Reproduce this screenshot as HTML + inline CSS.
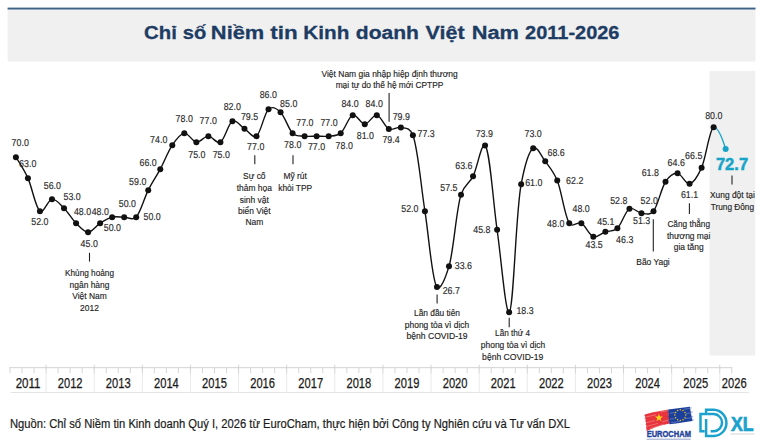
<!DOCTYPE html>
<html lang="vi"><head><meta charset="utf-8"><title>Chỉ số Niềm tin Kinh doanh Việt Nam 2011-2026</title>
<style>
html,body{margin:0;padding:0;background:#fff;}
body{width:762px;height:447px;overflow:hidden;font-family:"Liberation Sans",sans-serif;}
svg{display:block;}
</style></head><body>
<svg width="762" height="447" viewBox="0 0 762 447">
<rect width="762" height="447" fill="#fff"/>
<rect x="7.6" y="8" width="747.9" height="53.6" fill="#f0f0f0"/>
<rect x="7.6" y="7.6" width="747.9" height="1.9" fill="#3b6186"/>
<g font-family="Liberation Sans, sans-serif" font-weight="700" font-size="19.2" fill="#1d3c63" stroke="#1d3c63" stroke-width="0.3">
<text x="144.08" y="38.50" textLength="32.79" lengthAdjust="spacingAndGlyphs">Chỉ</text>
<text x="182.84" y="38.50" textLength="23.49" lengthAdjust="spacingAndGlyphs">số</text>
<text x="210.88" y="38.50" textLength="53.39" lengthAdjust="spacingAndGlyphs">Niềm</text>
<text x="270.29" y="38.50" textLength="27.41" lengthAdjust="spacingAndGlyphs">tin</text>
<text x="303.34" y="38.50" textLength="46.03" lengthAdjust="spacingAndGlyphs">Kinh</text>
<text x="355.79" y="38.50" textLength="63.17" lengthAdjust="spacingAndGlyphs">doanh</text>
<text x="425.61" y="38.50" textLength="38.99" lengthAdjust="spacingAndGlyphs">Việt</text>
<text x="471.72" y="38.50" textLength="47.23" lengthAdjust="spacingAndGlyphs">Nam</text>
<text x="525.08" y="38.50" textLength="94.39" lengthAdjust="spacingAndGlyphs">2011-2026</text>
</g>
<rect x="709.6" y="70.9" width="45.6" height="284.7" fill="#f0f0f0"/>
<g stroke-width="1" fill="none">
<line x1="10.50" y1="392.5" x2="749.00" y2="392.5" stroke="#e4e4e4"/>
<line x1="46.09" y1="373" x2="46.09" y2="392.5" stroke="#e9e9e9"/>
<line x1="94.21" y1="373" x2="94.21" y2="392.5" stroke="#e9e9e9"/>
<line x1="142.33" y1="373" x2="142.33" y2="392.5" stroke="#e9e9e9"/>
<line x1="190.45" y1="373" x2="190.45" y2="392.5" stroke="#e9e9e9"/>
<line x1="238.57" y1="373" x2="238.57" y2="392.5" stroke="#e9e9e9"/>
<line x1="286.69" y1="373" x2="286.69" y2="392.5" stroke="#e9e9e9"/>
<line x1="334.81" y1="373" x2="334.81" y2="392.5" stroke="#e9e9e9"/>
<line x1="382.93" y1="373" x2="382.93" y2="392.5" stroke="#e9e9e9"/>
<line x1="431.05" y1="373" x2="431.05" y2="392.5" stroke="#e9e9e9"/>
<line x1="479.17" y1="373" x2="479.17" y2="392.5" stroke="#e9e9e9"/>
<line x1="527.29" y1="373" x2="527.29" y2="392.5" stroke="#e9e9e9"/>
<line x1="575.41" y1="373" x2="575.41" y2="392.5" stroke="#e9e9e9"/>
<line x1="623.53" y1="373" x2="623.53" y2="392.5" stroke="#e9e9e9"/>
<line x1="671.65" y1="373" x2="671.65" y2="392.5" stroke="#e9e9e9"/>
<line x1="719.77" y1="373" x2="719.77" y2="392.5" stroke="#e9e9e9"/>
<line x1="10.00" y1="367.5" x2="10.00" y2="373.2" stroke="#d6d6d6"/>
<line x1="22.03" y1="367.5" x2="22.03" y2="373.2" stroke="#d6d6d6"/>
<line x1="34.06" y1="367.5" x2="34.06" y2="373.2" stroke="#d6d6d6"/>
<line x1="46.09" y1="364.8" x2="46.09" y2="373.2" stroke="#d2d2d2"/>
<line x1="58.12" y1="367.5" x2="58.12" y2="373.2" stroke="#d6d6d6"/>
<line x1="70.15" y1="367.5" x2="70.15" y2="373.2" stroke="#d6d6d6"/>
<line x1="82.18" y1="367.5" x2="82.18" y2="373.2" stroke="#d6d6d6"/>
<line x1="94.21" y1="364.8" x2="94.21" y2="373.2" stroke="#d2d2d2"/>
<line x1="106.24" y1="367.5" x2="106.24" y2="373.2" stroke="#d6d6d6"/>
<line x1="118.27" y1="367.5" x2="118.27" y2="373.2" stroke="#d6d6d6"/>
<line x1="130.30" y1="367.5" x2="130.30" y2="373.2" stroke="#d6d6d6"/>
<line x1="142.33" y1="364.8" x2="142.33" y2="373.2" stroke="#d2d2d2"/>
<line x1="154.36" y1="367.5" x2="154.36" y2="373.2" stroke="#d6d6d6"/>
<line x1="166.39" y1="367.5" x2="166.39" y2="373.2" stroke="#d6d6d6"/>
<line x1="178.42" y1="367.5" x2="178.42" y2="373.2" stroke="#d6d6d6"/>
<line x1="190.45" y1="364.8" x2="190.45" y2="373.2" stroke="#d2d2d2"/>
<line x1="202.48" y1="367.5" x2="202.48" y2="373.2" stroke="#d6d6d6"/>
<line x1="214.51" y1="367.5" x2="214.51" y2="373.2" stroke="#d6d6d6"/>
<line x1="226.54" y1="367.5" x2="226.54" y2="373.2" stroke="#d6d6d6"/>
<line x1="238.57" y1="364.8" x2="238.57" y2="373.2" stroke="#d2d2d2"/>
<line x1="250.60" y1="367.5" x2="250.60" y2="373.2" stroke="#d6d6d6"/>
<line x1="262.63" y1="367.5" x2="262.63" y2="373.2" stroke="#d6d6d6"/>
<line x1="274.66" y1="367.5" x2="274.66" y2="373.2" stroke="#d6d6d6"/>
<line x1="286.69" y1="364.8" x2="286.69" y2="373.2" stroke="#d2d2d2"/>
<line x1="298.72" y1="367.5" x2="298.72" y2="373.2" stroke="#d6d6d6"/>
<line x1="310.75" y1="367.5" x2="310.75" y2="373.2" stroke="#d6d6d6"/>
<line x1="322.78" y1="367.5" x2="322.78" y2="373.2" stroke="#d6d6d6"/>
<line x1="334.81" y1="364.8" x2="334.81" y2="373.2" stroke="#d2d2d2"/>
<line x1="346.84" y1="367.5" x2="346.84" y2="373.2" stroke="#d6d6d6"/>
<line x1="358.87" y1="367.5" x2="358.87" y2="373.2" stroke="#d6d6d6"/>
<line x1="370.90" y1="367.5" x2="370.90" y2="373.2" stroke="#d6d6d6"/>
<line x1="382.93" y1="364.8" x2="382.93" y2="373.2" stroke="#d2d2d2"/>
<line x1="394.96" y1="367.5" x2="394.96" y2="373.2" stroke="#d6d6d6"/>
<line x1="406.99" y1="367.5" x2="406.99" y2="373.2" stroke="#d6d6d6"/>
<line x1="419.02" y1="367.5" x2="419.02" y2="373.2" stroke="#d6d6d6"/>
<line x1="431.05" y1="364.8" x2="431.05" y2="373.2" stroke="#d2d2d2"/>
<line x1="443.08" y1="367.5" x2="443.08" y2="373.2" stroke="#d6d6d6"/>
<line x1="455.11" y1="367.5" x2="455.11" y2="373.2" stroke="#d6d6d6"/>
<line x1="467.14" y1="367.5" x2="467.14" y2="373.2" stroke="#d6d6d6"/>
<line x1="479.17" y1="364.8" x2="479.17" y2="373.2" stroke="#d2d2d2"/>
<line x1="491.20" y1="367.5" x2="491.20" y2="373.2" stroke="#d6d6d6"/>
<line x1="503.23" y1="367.5" x2="503.23" y2="373.2" stroke="#d6d6d6"/>
<line x1="515.26" y1="367.5" x2="515.26" y2="373.2" stroke="#d6d6d6"/>
<line x1="527.29" y1="364.8" x2="527.29" y2="373.2" stroke="#d2d2d2"/>
<line x1="539.32" y1="367.5" x2="539.32" y2="373.2" stroke="#d6d6d6"/>
<line x1="551.35" y1="367.5" x2="551.35" y2="373.2" stroke="#d6d6d6"/>
<line x1="563.38" y1="367.5" x2="563.38" y2="373.2" stroke="#d6d6d6"/>
<line x1="575.41" y1="364.8" x2="575.41" y2="373.2" stroke="#d2d2d2"/>
<line x1="587.44" y1="367.5" x2="587.44" y2="373.2" stroke="#d6d6d6"/>
<line x1="599.47" y1="367.5" x2="599.47" y2="373.2" stroke="#d6d6d6"/>
<line x1="611.50" y1="367.5" x2="611.50" y2="373.2" stroke="#d6d6d6"/>
<line x1="623.53" y1="364.8" x2="623.53" y2="373.2" stroke="#d2d2d2"/>
<line x1="635.56" y1="367.5" x2="635.56" y2="373.2" stroke="#d6d6d6"/>
<line x1="647.59" y1="367.5" x2="647.59" y2="373.2" stroke="#d6d6d6"/>
<line x1="659.62" y1="367.5" x2="659.62" y2="373.2" stroke="#d6d6d6"/>
<line x1="671.65" y1="364.8" x2="671.65" y2="373.2" stroke="#d2d2d2"/>
<line x1="683.68" y1="367.5" x2="683.68" y2="373.2" stroke="#d6d6d6"/>
<line x1="695.71" y1="367.5" x2="695.71" y2="373.2" stroke="#d6d6d6"/>
<line x1="707.74" y1="367.5" x2="707.74" y2="373.2" stroke="#d6d6d6"/>
<line x1="719.77" y1="364.8" x2="719.77" y2="373.2" stroke="#d2d2d2"/>
<line x1="731.80" y1="367.5" x2="731.80" y2="373.2" stroke="#d6d6d6"/>
<line x1="9.40" y1="367.7" x2="732.30" y2="367.7" stroke="#d2d2d2"/>
</g>
<g font-family="Liberation Sans, sans-serif" font-size="14" fill="#1a1a1a" stroke="#1a1a1a" stroke-width="0.25" text-anchor="middle">
<text x="28.04" y="388.3" textLength="24.8" lengthAdjust="spacingAndGlyphs">2011</text>
<text x="70.15" y="388.3" textLength="24.8" lengthAdjust="spacingAndGlyphs">2012</text>
<text x="118.27" y="388.3" textLength="24.8" lengthAdjust="spacingAndGlyphs">2013</text>
<text x="166.39" y="388.3" textLength="24.8" lengthAdjust="spacingAndGlyphs">2014</text>
<text x="214.51" y="388.3" textLength="24.8" lengthAdjust="spacingAndGlyphs">2015</text>
<text x="262.63" y="388.3" textLength="24.8" lengthAdjust="spacingAndGlyphs">2016</text>
<text x="310.75" y="388.3" textLength="24.8" lengthAdjust="spacingAndGlyphs">2017</text>
<text x="358.87" y="388.3" textLength="24.8" lengthAdjust="spacingAndGlyphs">2018</text>
<text x="406.99" y="388.3" textLength="24.8" lengthAdjust="spacingAndGlyphs">2019</text>
<text x="455.11" y="388.3" textLength="24.8" lengthAdjust="spacingAndGlyphs">2020</text>
<text x="503.23" y="388.3" textLength="24.8" lengthAdjust="spacingAndGlyphs">2021</text>
<text x="551.35" y="388.3" textLength="24.8" lengthAdjust="spacingAndGlyphs">2022</text>
<text x="599.47" y="388.3" textLength="24.8" lengthAdjust="spacingAndGlyphs">2023</text>
<text x="647.59" y="388.3" textLength="24.8" lengthAdjust="spacingAndGlyphs">2024</text>
<text x="695.71" y="388.3" textLength="24.8" lengthAdjust="spacingAndGlyphs">2025</text>
<text x="734.27" y="388.3" textLength="24.8" lengthAdjust="spacingAndGlyphs">2026</text>
</g>
<path d="M15.90,157.15C15.90,157.15 24.04,169.55 27.93,178.15C32.08,187.33 35.73,208.25 39.96,211.15C43.79,213.78 47.96,199.62 51.99,199.15C55.98,198.68 60.05,204.21 64.02,208.15C68.07,212.17 72.00,219.13 76.05,223.15C80.02,227.09 84.07,232.15 88.08,232.15C92.09,232.15 96.09,225.65 100.11,223.15C104.11,220.66 108.12,218.15 112.14,217.15C116.14,216.16 120.16,217.15 124.17,217.15C128.18,217.15 132.35,221.10 136.20,217.15C140.40,212.84 144.16,198.25 148.23,190.15C152.18,182.30 156.28,176.59 160.26,169.15C164.30,161.60 168.17,151.21 172.29,145.15C176.20,139.39 180.29,133.62 184.32,133.15C188.31,132.68 192.33,141.66 196.35,142.15C200.35,142.63 204.37,136.15 208.38,136.15C212.39,136.15 216.50,144.37 220.41,142.15C224.53,139.82 228.33,123.22 232.44,121.15C236.36,119.17 240.46,126.15 244.47,128.65C248.48,131.15 252.64,138.85 256.50,136.15C260.68,133.23 264.33,112.89 268.53,109.15C272.38,105.71 276.65,108.41 280.56,112.15C284.68,116.10 288.47,129.20 292.59,133.15C296.50,136.89 300.61,135.65 304.62,136.15C308.63,136.65 312.64,136.15 316.65,136.15C320.66,136.15 324.67,136.65 328.68,136.15C332.69,135.65 336.78,136.48 340.71,133.15C344.80,129.68 348.67,116.53 352.74,115.15C356.69,113.81 360.76,124.15 364.77,124.15C368.78,124.15 372.82,114.41 376.80,115.15C380.84,115.90 384.77,126.94 388.83,128.95C392.79,130.91 396.87,126.42 400.86,127.45C404.89,128.49 409.37,126.39 412.89,135.25C417.90,147.86 420.91,185.85 424.92,211.15C428.93,236.45 432.11,281.74 436.95,287.05C440.51,290.95 445.40,277.99 448.98,266.35C453.75,250.85 456.20,209.55 461.01,194.65C464.58,183.58 469.15,184.17 473.04,176.35C477.19,168.01 481.50,142.43 485.07,145.45C489.87,149.51 493.07,201.83 497.10,229.75C501.09,257.43 505.43,313.25 509.13,312.25C513.59,311.04 515.78,212.24 521.16,184.15C524.61,166.15 528.92,151.20 533.19,148.15C537.00,145.42 541.26,156.04 545.22,161.35C549.28,166.79 553.47,171.31 557.25,180.55C561.55,191.07 564.85,216.67 569.28,223.15C572.99,228.58 577.35,220.98 581.31,223.15C585.37,225.37 589.29,235.25 593.34,236.65C597.31,238.02 601.36,233.25 605.37,231.85C609.38,230.45 613.48,231.89 617.40,228.25C621.51,224.43 625.32,211.12 629.43,208.75C633.35,206.48 637.45,212.85 641.46,213.25C645.47,213.65 649.66,215.74 653.49,211.15C657.72,206.09 661.31,188.03 665.52,181.75C669.37,176.01 673.55,173.02 677.55,173.35C681.57,173.68 685.61,184.71 689.58,183.85C693.63,182.98 697.83,176.07 701.61,167.65C705.91,158.06 709.40,129.29 713.64,127.15" fill="none" stroke="#111" stroke-width="1.4" stroke-linejoin="round" stroke-linecap="round"/>
<path d="M713.64,127.15C718.64,126.95 723.37,141.55 725.67,149.05" fill="none" stroke="#15a4c8" stroke-width="1.4" stroke-linecap="round"/>
<g fill="#111">
<circle cx="15.90" cy="157.15" r="3"/>
<circle cx="27.93" cy="178.15" r="3"/>
<circle cx="39.96" cy="211.15" r="3"/>
<circle cx="51.99" cy="199.15" r="3"/>
<circle cx="64.02" cy="208.15" r="3"/>
<circle cx="76.05" cy="223.15" r="3"/>
<circle cx="88.08" cy="232.15" r="3"/>
<circle cx="100.11" cy="223.15" r="3"/>
<circle cx="112.14" cy="217.15" r="3"/>
<circle cx="124.17" cy="217.15" r="3"/>
<circle cx="136.20" cy="217.15" r="3"/>
<circle cx="148.23" cy="190.15" r="3"/>
<circle cx="160.26" cy="169.15" r="3"/>
<circle cx="172.29" cy="145.15" r="3"/>
<circle cx="184.32" cy="133.15" r="3"/>
<circle cx="196.35" cy="142.15" r="3"/>
<circle cx="208.38" cy="136.15" r="3"/>
<circle cx="220.41" cy="142.15" r="3"/>
<circle cx="232.44" cy="121.15" r="3"/>
<circle cx="244.47" cy="128.65" r="3"/>
<circle cx="256.50" cy="136.15" r="3"/>
<circle cx="268.53" cy="109.15" r="3"/>
<circle cx="280.56" cy="112.15" r="3"/>
<circle cx="292.59" cy="133.15" r="3"/>
<circle cx="304.62" cy="136.15" r="3"/>
<circle cx="316.65" cy="136.15" r="3"/>
<circle cx="328.68" cy="136.15" r="3"/>
<circle cx="340.71" cy="133.15" r="3"/>
<circle cx="352.74" cy="115.15" r="3"/>
<circle cx="364.77" cy="124.15" r="3"/>
<circle cx="376.80" cy="115.15" r="3"/>
<circle cx="388.83" cy="128.95" r="3"/>
<circle cx="400.86" cy="127.45" r="3"/>
<circle cx="412.89" cy="135.25" r="3"/>
<circle cx="424.92" cy="211.15" r="3"/>
<circle cx="436.95" cy="287.05" r="3"/>
<circle cx="448.98" cy="266.35" r="3"/>
<circle cx="461.01" cy="194.65" r="3"/>
<circle cx="473.04" cy="176.35" r="3"/>
<circle cx="485.07" cy="145.45" r="3"/>
<circle cx="497.10" cy="229.75" r="3"/>
<circle cx="509.13" cy="312.25" r="3"/>
<circle cx="521.16" cy="184.15" r="3"/>
<circle cx="533.19" cy="148.15" r="3"/>
<circle cx="545.22" cy="161.35" r="3"/>
<circle cx="557.25" cy="180.55" r="3"/>
<circle cx="569.28" cy="223.15" r="3"/>
<circle cx="581.31" cy="223.15" r="3"/>
<circle cx="593.34" cy="236.65" r="3"/>
<circle cx="605.37" cy="231.85" r="3"/>
<circle cx="617.40" cy="228.25" r="3"/>
<circle cx="629.43" cy="208.75" r="3"/>
<circle cx="641.46" cy="213.25" r="3"/>
<circle cx="653.49" cy="211.15" r="3"/>
<circle cx="665.52" cy="181.75" r="3"/>
<circle cx="677.55" cy="173.35" r="3"/>
<circle cx="689.58" cy="183.85" r="3"/>
<circle cx="701.61" cy="167.65" r="3"/>
<circle cx="713.64" cy="127.15" r="3"/>
</g>
<circle cx="725.67" cy="149.05" r="3" fill="#15a4c8"/>
<g font-family="Liberation Sans, sans-serif" font-size="10.0" fill="#2a2a2a" stroke="#2a2a2a" stroke-width="0.15" text-anchor="middle" text-rendering="geometricPrecision">
<text x="20.2" y="145.8" textLength="17.2" lengthAdjust="spacingAndGlyphs">70.0</text>
<text x="27.7" y="166.8" textLength="17.2" lengthAdjust="spacingAndGlyphs">63.0</text>
<text x="39.9" y="225.3" textLength="17.2" lengthAdjust="spacingAndGlyphs">52.0</text>
<text x="52.4" y="189.4" textLength="17.2" lengthAdjust="spacingAndGlyphs">56.0</text>
<text x="72.1" y="199.7" textLength="17.2" lengthAdjust="spacingAndGlyphs">53.0</text>
<text x="82.5" y="214.7" textLength="17.2" lengthAdjust="spacingAndGlyphs">48.0</text>
<text x="89.2" y="247.0" textLength="17.2" lengthAdjust="spacingAndGlyphs">45.0</text>
<text x="100.3" y="214.7" textLength="17.2" lengthAdjust="spacingAndGlyphs">48.0</text>
<text x="112.4" y="231.3" textLength="17.2" lengthAdjust="spacingAndGlyphs">50.0</text>
<text x="127.4" y="206.9" textLength="17.2" lengthAdjust="spacingAndGlyphs">50.0</text>
<text x="152.1" y="220.0" textLength="17.2" lengthAdjust="spacingAndGlyphs">50.0</text>
<text x="137.7" y="184.7" textLength="17.2" lengthAdjust="spacingAndGlyphs">59.0</text>
<text x="148.1" y="165.6" textLength="17.2" lengthAdjust="spacingAndGlyphs">66.0</text>
<text x="158.7" y="143.0" textLength="17.2" lengthAdjust="spacingAndGlyphs">74.0</text>
<text x="184.2" y="121.5" textLength="17.2" lengthAdjust="spacingAndGlyphs">78.0</text>
<text x="196.9" y="157.5" textLength="17.2" lengthAdjust="spacingAndGlyphs">75.0</text>
<text x="208.2" y="123.9" textLength="17.2" lengthAdjust="spacingAndGlyphs">77.0</text>
<text x="221.3" y="157.5" textLength="17.2" lengthAdjust="spacingAndGlyphs">75.0</text>
<text x="232.3" y="109.6" textLength="17.2" lengthAdjust="spacingAndGlyphs">82.0</text>
<text x="249.5" y="120.0" textLength="17.2" lengthAdjust="spacingAndGlyphs">79.5</text>
<text x="255.7" y="150.3" textLength="17.2" lengthAdjust="spacingAndGlyphs">77.0</text>
<text x="268.3" y="97.7" textLength="17.2" lengthAdjust="spacingAndGlyphs">86.0</text>
<text x="288.7" y="106.8" textLength="17.2" lengthAdjust="spacingAndGlyphs">85.0</text>
<text x="292.7" y="148.0" textLength="17.2" lengthAdjust="spacingAndGlyphs">78.0</text>
<text x="304.9" y="125.6" textLength="17.2" lengthAdjust="spacingAndGlyphs">77.0</text>
<text x="316.5" y="149.7" textLength="17.2" lengthAdjust="spacingAndGlyphs">77.0</text>
<text x="329.0" y="125.6" textLength="17.2" lengthAdjust="spacingAndGlyphs">77.0</text>
<text x="344.2" y="148.8" textLength="17.2" lengthAdjust="spacingAndGlyphs">78.0</text>
<text x="350.0" y="107.4" textLength="17.2" lengthAdjust="spacingAndGlyphs">84.0</text>
<text x="365.4" y="138.8" textLength="17.2" lengthAdjust="spacingAndGlyphs">81.0</text>
<text x="374.2" y="107.0" textLength="17.2" lengthAdjust="spacingAndGlyphs">84.0</text>
<text x="391.0" y="142.8" textLength="17.2" lengthAdjust="spacingAndGlyphs">79.4</text>
<text x="401.3" y="120.3" textLength="17.2" lengthAdjust="spacingAndGlyphs">79.9</text>
<text x="426.1" y="136.9" textLength="17.2" lengthAdjust="spacingAndGlyphs">77.3</text>
<text x="409.9" y="212.4" textLength="17.2" lengthAdjust="spacingAndGlyphs">52.0</text>
<text x="451.3" y="293.5" textLength="17.2" lengthAdjust="spacingAndGlyphs">26.7</text>
<text x="463.4" y="269.1" textLength="17.2" lengthAdjust="spacingAndGlyphs">33.6</text>
<text x="448.9" y="190.7" textLength="17.2" lengthAdjust="spacingAndGlyphs">57.5</text>
<text x="463.9" y="169.4" textLength="17.2" lengthAdjust="spacingAndGlyphs">63.6</text>
<text x="484.3" y="137.2" textLength="17.2" lengthAdjust="spacingAndGlyphs">73.9</text>
<text x="481.9" y="232.9" textLength="17.2" lengthAdjust="spacingAndGlyphs">45.8</text>
<text x="525.0" y="314.2" textLength="17.2" lengthAdjust="spacingAndGlyphs">18.3</text>
<text x="533.8" y="185.8" textLength="17.2" lengthAdjust="spacingAndGlyphs">61.0</text>
<text x="533.1" y="137.2" textLength="17.2" lengthAdjust="spacingAndGlyphs">73.0</text>
<text x="556.1" y="156.0" textLength="17.2" lengthAdjust="spacingAndGlyphs">68.6</text>
<text x="574.7" y="183.5" textLength="17.2" lengthAdjust="spacingAndGlyphs">62.2</text>
<text x="555.7" y="227.2" textLength="17.2" lengthAdjust="spacingAndGlyphs">48.0</text>
<text x="581.1" y="211.6" textLength="17.2" lengthAdjust="spacingAndGlyphs">48.0</text>
<text x="594.1" y="247.8" textLength="17.2" lengthAdjust="spacingAndGlyphs">43.5</text>
<text x="605.9" y="224.9" textLength="17.2" lengthAdjust="spacingAndGlyphs">45.1</text>
<text x="624.7" y="242.8" textLength="17.2" lengthAdjust="spacingAndGlyphs">46.3</text>
<text x="618.8" y="203.6" textLength="17.2" lengthAdjust="spacingAndGlyphs">52.8</text>
<text x="641.6" y="224.2" textLength="17.2" lengthAdjust="spacingAndGlyphs">51.3</text>
<text x="649.2" y="204.4" textLength="17.2" lengthAdjust="spacingAndGlyphs">52.0</text>
<text x="650.3" y="176.3" textLength="17.2" lengthAdjust="spacingAndGlyphs">61.8</text>
<text x="676.2" y="166.4" textLength="17.2" lengthAdjust="spacingAndGlyphs">64.6</text>
<text x="689.5" y="198.3" textLength="17.2" lengthAdjust="spacingAndGlyphs">61.1</text>
<text x="693.7" y="159.2" textLength="17.2" lengthAdjust="spacingAndGlyphs">66.5</text>
<text x="713.8" y="118.9" textLength="17.2" lengthAdjust="spacingAndGlyphs">80.0</text>
</g>
<text x="732.0" y="170.0" text-anchor="middle" font-family="Liberation Sans, sans-serif" font-weight="700" font-size="16.4" fill="#15a4c8" stroke="#15a4c8" stroke-width="0.5" textLength="32.2" lengthAdjust="spacingAndGlyphs">72.7</text>
<g stroke="#222" stroke-width="1.1" fill="none">
<line x1="89.5" y1="252.8" x2="89.5" y2="261.6"/>
<line x1="254.8" y1="155.2" x2="254.8" y2="164.2"/>
<line x1="293.0" y1="155.2" x2="293.0" y2="164.2"/>
<line x1="389.1" y1="93.0" x2="389.1" y2="121.7"/>
<line x1="437.1" y1="294.6" x2="437.1" y2="303.6"/>
<line x1="509.2" y1="317.8" x2="509.2" y2="327.2"/>
<line x1="653.3" y1="219.3" x2="653.3" y2="251.6"/>
<line x1="689.4" y1="203.3" x2="689.4" y2="214.0"/>
<line x1="732.0" y1="175.6" x2="732.0" y2="184.6"/>
</g>
<g font-family="Liberation Sans, sans-serif" font-size="9.6" fill="#222" stroke="#222" stroke-width="0.15" text-anchor="middle">
<text x="89.5" y="276.3" textLength="49.0" lengthAdjust="spacingAndGlyphs">Khủng hoảng</text>
<text x="89.5" y="288.3" textLength="39.8" lengthAdjust="spacingAndGlyphs">ngân hàng</text>
<text x="89.5" y="299.3" textLength="34.5" lengthAdjust="spacingAndGlyphs">Việt Nam</text>
<text x="89.5" y="310.8" textLength="18.8" lengthAdjust="spacingAndGlyphs">2012</text>
<text x="254.3" y="179.3" textLength="22.5" lengthAdjust="spacingAndGlyphs">Sự cố</text>
<text x="254.3" y="191.3" textLength="35.1" lengthAdjust="spacingAndGlyphs">thảm họa</text>
<text x="254.3" y="202.8" textLength="29.0" lengthAdjust="spacingAndGlyphs">sinh vật</text>
<text x="254.3" y="214.3" textLength="32.6" lengthAdjust="spacingAndGlyphs">biển Việt</text>
<text x="254.3" y="225.3" textLength="17.8" lengthAdjust="spacingAndGlyphs">Nam</text>
<text x="295.2" y="179.3" textLength="23.4" lengthAdjust="spacingAndGlyphs">Mỹ rút</text>
<text x="295.2" y="191.3" textLength="34.0" lengthAdjust="spacingAndGlyphs">khỏi TPP</text>
<text x="389.6" y="77.3" textLength="136.2" lengthAdjust="spacingAndGlyphs">Việt Nam gia nhập hiệp định thương</text>
<text x="389.5" y="88.3" textLength="107.7" lengthAdjust="spacingAndGlyphs">mại tự do thế hệ mới CPTPP</text>
<text x="437.0" y="316.3" textLength="46.0" lengthAdjust="spacingAndGlyphs">Lần đầu tiên</text>
<text x="437.0" y="327.6" textLength="64.4" lengthAdjust="spacingAndGlyphs">phong tỏa vì dịch</text>
<text x="437.0" y="339.0" textLength="61.2" lengthAdjust="spacingAndGlyphs">bệnh COVID-19</text>
<text x="512.6" y="335.7" textLength="35.0" lengthAdjust="spacingAndGlyphs">Lần thứ 4</text>
<text x="513.0" y="347.5" textLength="64.4" lengthAdjust="spacingAndGlyphs">phong tỏa vì dịch</text>
<text x="512.7" y="359.6" textLength="61.2" lengthAdjust="spacingAndGlyphs">bệnh COVID-19</text>
<text x="653.0" y="265.3" textLength="33.4" lengthAdjust="spacingAndGlyphs">Bão Yagi</text>
<text x="688.7" y="226.7" textLength="42.6" lengthAdjust="spacingAndGlyphs">Căng thẳng</text>
<text x="688.7" y="238.5" textLength="43.5" lengthAdjust="spacingAndGlyphs">thương mại</text>
<text x="688.7" y="249.6" textLength="30.0" lengthAdjust="spacingAndGlyphs">gia tăng</text>
<text x="732.4" y="197.9" textLength="44.8" lengthAdjust="spacingAndGlyphs">Xung đột tại</text>
<text x="732.4" y="210.0" textLength="43.3" lengthAdjust="spacingAndGlyphs">Trung Đông</text>
</g>
<text x="10" y="428.3" font-family="Liberation Sans, sans-serif" font-size="12.5" fill="#1a1a1a" stroke="#1a1a1a" stroke-width="0.2" textLength="560" lengthAdjust="spacingAndGlyphs">Nguồn: Chỉ số Niềm tin Kinh doanh Quý I, 2026 từ EuroCham, thực hiện bởi Công ty Nghiên cứu và Tư vấn DXL</text>
<g id="eurocham">
<path d="M644.8,414.4 L652,412.6 L668.4,409.5 L669.6,423.4 L661,425.6 L655,427.4 L646.6,430.9 L646.2,425 L645.6,420Z" fill="#e8343c"/>
<g stroke="#e8343c" stroke-width="0.7" fill="none" opacity="0.85">
<path d="M644.2,415.6 L650,414.3 M644.6,418.2 L649,417.4 M645,421.2 L650,420.2 M645.6,424.4 L651,423.2 M646.3,427.6 L652,426 M646.8,429.6 L653,427.6"/>
</g>
<g stroke="#fff" stroke-width="0.5" opacity="0.55" fill="none"><path d="M645.5,417 L656,414.8 M646,422.6 L655,420.6 M647,426.4 L658,423.4 M650,428.6 L664,424.2 M660,412 L668,410.6 M662,421.6 L669,420.2"/></g>
<polygon points="658.90,413.70 659.89,416.54 662.89,416.60 660.50,418.42 661.37,421.30 658.90,419.58 656.43,421.30 657.30,418.42 654.91,416.60 657.91,416.54" fill="#ffd51a"/>
<path d="M668.2,409.6 L676,408.4 L689.8,406.8 L690.6,411 L691.4,415.6 L692.4,421 L684,422.2 L676,423.4 L669.4,424.2Z" fill="#1b3f9c"/>
<g stroke="#1b3f9c" stroke-width="0.7" fill="none" opacity="0.85">
<path d="M689.5,408.2 L691.6,407.9 M690.4,412.4 L692.6,412 M691.2,417.2 L693.2,416.8 M691.8,420 L693.6,419.8 M667.2,412 L669,411.7 M667.6,416.4 L669.4,416.1 M668,421 L669.6,420.7"/>
</g>
<g stroke="#fff" stroke-width="0.5" opacity="0.5" fill="none"><path d="M684,409.2 L691,408.3 M686,413.6 L692,412.8 M685,418.6 L692.6,417.6 M670,413.2 L675,412.5 M670,419.2 L674.6,418.6 M671,422.6 L680,421.5"/></g>
<g fill="#f2c81e">
<circle cx="680.3" cy="409.7" r="0.75"/><circle cx="683.0" cy="410.4" r="0.75"/><circle cx="685.0" cy="412.4" r="0.75"/><circle cx="685.8" cy="415.1" r="0.75"/>
<circle cx="685.0" cy="417.8" r="0.75"/><circle cx="683.0" cy="419.8" r="0.75"/><circle cx="680.3" cy="420.5" r="0.75"/><circle cx="677.6" cy="419.8" r="0.75"/>
<circle cx="675.6" cy="417.8" r="0.75"/><circle cx="674.8" cy="415.1" r="0.75"/><circle cx="675.6" cy="412.4" r="0.75"/><circle cx="677.6" cy="410.4" r="0.75"/>
</g>
<text x="646.7" y="437.3" font-family="Liberation Sans, sans-serif" font-weight="700" font-size="8.2" fill="#1e4199" stroke="#1e4199" stroke-width="0.35" textLength="44.2" lengthAdjust="spacingAndGlyphs">EUROCHAM</text>
<rect x="646.6" y="438.6" width="44.2" height="1.2" fill="#1e4199" opacity="0.4"/>
</g>
<g id="dxl" fill="none" stroke="#1aa2cc" stroke-width="2.5" stroke-linejoin="miter">
<path d="M706.1,419.1 V436.05 H713.9 A13.14,13.14 0 0 0 713.9,409.8 H706.1 V414.1 H700.5 V431.2 H704.6"/>
<path d="M707.2,414.1 H713.9 A8.56,8.56 0 0 1 713.9,431.2 H710.6"/>
</g>
<text x="731" y="430.7" font-family="Liberation Sans, sans-serif" font-weight="700" font-size="19.6" fill="#1aa2cc" stroke="#1aa2cc" stroke-width="0.7" textLength="22.6" lengthAdjust="spacingAndGlyphs">XL</text>
<rect x="730.4" y="433.4" width="24" height="1.1" fill="#8a8f96" opacity="0.35"/>

</svg>
</body></html>
